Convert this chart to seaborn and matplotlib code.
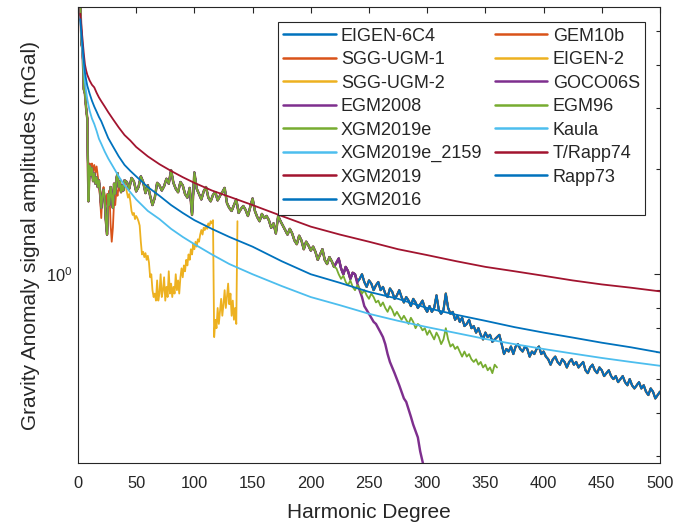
import numpy as np
import pandas as pd
import seaborn as sns
import matplotlib
matplotlib.use("Agg")
import matplotlib.pyplot as plt
from matplotlib.ticker import MultipleLocator, NullFormatter

# legend order = drawing order (later entries end up on top)
models = ["EIGEN-6C4", "SGG-UGM-1", "SGG-UGM-2", "EGM2008", "XGM2019e",
          "XGM2019e_2159", "XGM2019", "XGM2016", "GEM10b", "EIGEN-2",
          "GOCO06S", "EGM96", "Kaula", "T/Rapp74", "Rapp73"]
model_colors = ["#0072BD", "#D95319", "#EDB120", "#7E2F8E", "#77AC30",
                "#4DBEEE", "#A2142F", "#0072BD", "#D95319", "#EDB120",
                "#7E2F8E", "#77AC30", "#4DBEEE", "#A2142F", "#0072BD"]
hi_res_models = models[:8]

# high resolution models (they overlap in the picture), degree 2..500
hr_degree = list(range(2, 41)) + list(range(42, 501, 2))
hr_amplitude = [
    6.2, 4.6, 4.4, 3.4, 3.3, 3.0, 2.8, 1.62, 2.05, 1.92,
    2.02, 1.85, 1.95, 1.82, 1.90, 1.78, 1.86, 1.72, 1.55, 1.68,
    1.75, 1.62, 1.42, 1.30, 1.70, 1.58, 1.78, 1.68, 1.55, 1.82,
    1.70, 1.88, 1.95, 1.78, 1.85, 1.72, 1.80, 1.74, 1.86,
    1.84, 1.76, 1.89, 1.85, 1.73, 1.78, 1.91, 1.84, 1.71, 1.80,
    1.68, 1.58, 1.66, 1.83, 1.80, 1.74, 1.79, 1.88, 1.82, 1.99,
    1.83, 1.76, 1.72, 1.84, 1.80, 1.70, 1.66, 1.77, 1.48, 1.96,
    1.76, 1.70, 1.64, 1.73, 1.78, 1.66, 1.62, 1.69, 1.72, 1.63,
    1.68, 1.72, 1.77, 1.60, 1.55, 1.52, 1.58, 1.64, 1.50, 1.54,
    1.57, 1.53, 1.47, 1.56, 1.65, 1.52, 1.46, 1.42, 1.49, 1.45,
    1.47, 1.43, 1.36, 1.40, 1.31, 1.47, 1.42, 1.38, 1.34, 1.30,
    1.35, 1.31, 1.25, 1.22, 1.29, 1.25, 1.18, 1.24, 1.21, 1.17,
    1.20, 1.16, 1.10, 1.14, 1.18, 1.10, 1.07, 1.12, 1.09, 1.05,
    1.08, 1.11, 1.04, 1.00, 1.05, 1.02, 0.97, 1.01, 1.00, 0.95,
    0.97, 1.00, 0.95, 0.92, 0.96, 0.94, 0.90, 0.93, 0.95, 0.90,
    0.92, 0.88, 0.86, 0.91, 0.89, 0.85, 0.87, 0.90, 0.86, 0.83,
    0.86, 0.84, 0.81, 0.85, 0.83, 0.80, 0.82, 0.84, 0.80, 0.78,
    0.81, 0.78, 0.80, 0.87, 0.79, 0.77, 0.79, 0.88, 0.80, 0.77,
    0.78, 0.74, 0.76, 0.73, 0.75, 0.71, 0.72, 0.74, 0.70, 0.71,
    0.68, 0.70, 0.67, 0.65, 0.68, 0.66, 0.67, 0.64, 0.65, 0.66,
    0.67, 0.63, 0.59, 0.61, 0.60, 0.62, 0.59, 0.62, 0.63, 0.61,
    0.60, 0.62, 0.61, 0.58, 0.60, 0.59, 0.61, 0.62, 0.59, 0.60,
    0.58, 0.57, 0.55, 0.57, 0.58, 0.56, 0.55, 0.57, 0.56, 0.54,
    0.56, 0.57, 0.55, 0.56, 0.54, 0.55, 0.56, 0.53, 0.52, 0.54,
    0.55, 0.53, 0.52, 0.54, 0.53, 0.51, 0.52, 0.53, 0.51, 0.50,
    0.51, 0.49, 0.50, 0.51, 0.49, 0.48, 0.50, 0.48, 0.47, 0.48,
    0.49, 0.47, 0.48, 0.46, 0.45, 0.47, 0.46, 0.44, 0.45, 0.46,
]

# EGM96 leaves the common curve after degree ~220 and stops at 360
egm96_tail_degree = list(range(222, 361, 2))
egm96_tail_amplitude = [
    1.04, 1.00, 0.97, 0.99, 0.95, 0.93, 0.96, 0.92, 0.90, 0.93,
    0.91, 0.88, 0.90, 0.87, 0.85, 0.88, 0.86, 0.83, 0.84, 0.81,
    0.83, 0.80, 0.78, 0.81, 0.79, 0.76, 0.78, 0.76, 0.74, 0.76,
    0.74, 0.72, 0.75, 0.73, 0.70, 0.72, 0.71, 0.69, 0.70, 0.67,
    0.69, 0.67, 0.65, 0.68, 0.66, 0.63, 0.65, 0.70, 0.65, 0.62,
    0.63, 0.61, 0.62, 0.60, 0.58, 0.60, 0.58, 0.59, 0.57, 0.56,
    0.57, 0.55, 0.56, 0.54, 0.55, 0.53, 0.54, 0.52, 0.55, 0.54,
]

# GOCO06S drops off after degree ~240 (max degree 300)
goco06s_tail_degree = list(range(240, 299, 2))
goco06s_tail_amplitude = [
    0.94, 0.90, 0.86, 0.81, 0.79, 0.77, 0.75, 0.73, 0.72, 0.70,
    0.68, 0.66, 0.63, 0.59, 0.56, 0.54, 0.52, 0.50, 0.48, 0.46,
    0.44, 0.43, 0.41, 0.39, 0.37, 0.355, 0.34, 0.31, 0.29, 0.27,
]

# EIGEN-2 departs from the others after degree 40
eigen2_tail_degree = list(range(41, 138))
eigen2_tail_amplitude = [
    1.80, 1.72, 1.66, 1.70, 1.62, 1.52, 1.48, 1.50, 1.44, 1.47,
    1.45, 1.42, 1.38, 1.24, 1.14, 1.16, 1.12, 1.15, 1.10, 1.13,
    1.08, 0.98, 1.00, 0.90, 0.86, 0.88, 0.84, 0.96, 0.84, 0.88,
    1.00, 0.86, 0.90, 0.98, 0.84, 0.92, 0.86, 1.02, 0.88, 0.94,
    0.86, 0.92, 0.88, 1.00, 0.90, 0.96, 0.88, 0.98, 1.04, 0.98,
    1.06, 1.02, 1.10, 1.06, 1.14, 1.10, 1.18, 1.14, 1.22, 1.18,
    1.24, 1.20, 1.26, 1.24, 1.30, 1.34, 1.30, 1.36, 1.34, 1.38,
    1.35, 1.40, 1.38, 1.42, 1.40, 1.43, 0.66, 0.74, 0.70, 0.80,
    0.72, 0.78, 0.85, 0.76, 0.82, 0.90, 0.80, 0.86, 0.94, 0.82,
    0.88, 0.76, 0.84, 0.74, 0.80, 0.72, 1.42,
]

gem10b_degree = list(range(2, 37))
gem10b_amplitude = [
    6.2, 4.6, 4.4, 3.4, 3.3, 3.0, 2.8, 1.64, 2.08, 2.04,
    2.08, 1.98, 2.06, 1.96, 2.04, 1.92, 1.80, 1.66, 1.45, 1.72,
    1.78, 1.66, 1.58, 1.70, 1.62, 1.74, 1.40, 1.24, 1.36, 1.62,
    1.58, 1.74, 1.68, 1.80, 1.74,
]

# empirical / analytical degree-variance models
smooth_degree = [2, 3, 4, 5, 6, 7, 8, 10, 12, 14, 16, 18, 20, 23, 26, 30, 35, 40,
                 45, 50, 60, 70, 80, 90, 100, 115, 130, 150, 175, 200, 225, 250,
                 275, 300, 325, 350, 375, 400, 425, 450, 475, 500]
kaula_amplitude = [5.5, 4.8, 4.3, 3.9, 3.56, 3.35, 3.18, 2.95, 2.8, 2.7, 2.58, 2.45,
                   2.37, 2.25, 2.15, 2.04, 1.91, 1.80, 1.72, 1.64, 1.52, 1.44, 1.35,
                   1.28, 1.22, 1.14, 1.07, 1.00, 0.925, 0.86, 0.815, 0.77, 0.735,
                   0.705, 0.678, 0.652, 0.63, 0.61, 0.592, 0.575, 0.56, 0.546]
trapp74_amplitude = [5.6, 5.1, 4.7, 4.3, 4.0, 3.85, 3.74, 3.6, 3.5, 3.44, 3.32, 3.22,
                     3.14, 3.03, 2.92, 2.79, 2.64, 2.51, 2.42, 2.32, 2.18, 2.07, 1.98,
                     1.90, 1.83, 1.74, 1.67, 1.58, 1.47, 1.37, 1.30, 1.24, 1.18,
                     1.135, 1.09, 1.05, 1.02, 0.99, 0.96, 0.935, 0.915, 0.893]
rapp73_amplitude = [5.4, 4.9, 4.5, 4.1, 3.8, 3.62, 3.48, 3.3, 3.15, 3.03, 2.93, 2.83,
                    2.75, 2.60, 2.46, 2.33, 2.18, 2.06, 1.98, 1.91, 1.78, 1.68, 1.58,
                    1.50, 1.43, 1.35, 1.28, 1.20, 1.09, 1.00, 0.945, 0.89, 0.85,
                    0.80, 0.765, 0.735, 0.705, 0.68, 0.658, 0.636, 0.617, 0.596]

# ---- build long table --------------------------------------------------
hr = pd.DataFrame({"degree": hr_degree, "amplitude": hr_amplitude})
parts = []
for m in hi_res_models:
    parts.append(hr.assign(model=m))
parts.append(pd.DataFrame({"degree": gem10b_degree, "amplitude": gem10b_amplitude}).assign(model="GEM10b"))
parts.append(pd.concat([hr[hr.degree <= 40],
                        pd.DataFrame({"degree": eigen2_tail_degree, "amplitude": eigen2_tail_amplitude})]).assign(model="EIGEN-2"))
parts.append(pd.concat([hr[hr.degree < 240],
                        pd.DataFrame({"degree": goco06s_tail_degree, "amplitude": goco06s_tail_amplitude})]).assign(model="GOCO06S"))
parts.append(pd.concat([hr[hr.degree < 222],
                        pd.DataFrame({"degree": egm96_tail_degree, "amplitude": egm96_tail_amplitude})]).assign(model="EGM96"))
for m, amp in [("Kaula", kaula_amplitude), ("T/Rapp74", trapp74_amplitude), ("Rapp73", rapp73_amplitude)]:
    parts.append(pd.DataFrame({"degree": smooth_degree, "amplitude": amp}).assign(model=m))
df = pd.concat(parts, ignore_index=True)

# slightly wider lines underneath so their edges peek out like in the original
line_widths = {m: 1.3 for m in models}
line_widths["SGG-UGM-2"] = 1.75
line_widths["GOCO06S"] = 1.75

sns.set_style("white")
plt.rcParams["font.family"] = ["Liberation Sans", "DejaVu Sans"]

fig = plt.figure(figsize=(6.9, 5.28), dpi=100)
ax = fig.add_axes([0.113, 0.123, 0.8435, 0.8636])

for m, c in zip(models, model_colors):
    sns.lineplot(data=df[df.model == m], x="degree", y="amplitude", color=c,
                 linewidth=line_widths[m], label=m, estimator=None, sort=False, ax=ax)

ax.set_yscale("log")
ax.set_xlim(0, 500)
ax.set_ylim(0.287, 5.85)
ax.xaxis.set_major_locator(MultipleLocator(50))
ax.yaxis.set_minor_formatter(NullFormatter())

ax.set_xlabel("Harmonic Degree", fontsize=15, color="#262626", labelpad=9)
ax.set_ylabel("Gravity Anomaly signal amplitudes (mGal)", fontsize=15, color="#262626")

for s in ax.spines.values():
    s.set_color("#262626")
    s.set_linewidth(0.8)
ax.tick_params(which="both", direction="in", top=True, right=True, color="#262626",
               labelcolor="#262626", width=0.8, labelsize=11.8)
ax.tick_params(which="major", length=4.5)
ax.tick_params(which="minor", length=3)
ax.tick_params(axis="x", pad=9)
ax.tick_params(axis="y", pad=4)

leg = ax.legend(ncol=2, loc="upper right", bbox_to_anchor=(0.975, 0.967), fontsize=13,
                frameon=True, fancybox=False, framealpha=1, edgecolor="#262626",
                handlelength=2.9, handletextpad=0.3, columnspacing=0.7,
                labelspacing=0.36, borderpad=0.3, borderaxespad=0)
leg.get_frame().set_linewidth(0.8)
for line in leg.get_lines():
    line.set_linewidth(1.8)

fig.savefig("out.png", dpi=100)
